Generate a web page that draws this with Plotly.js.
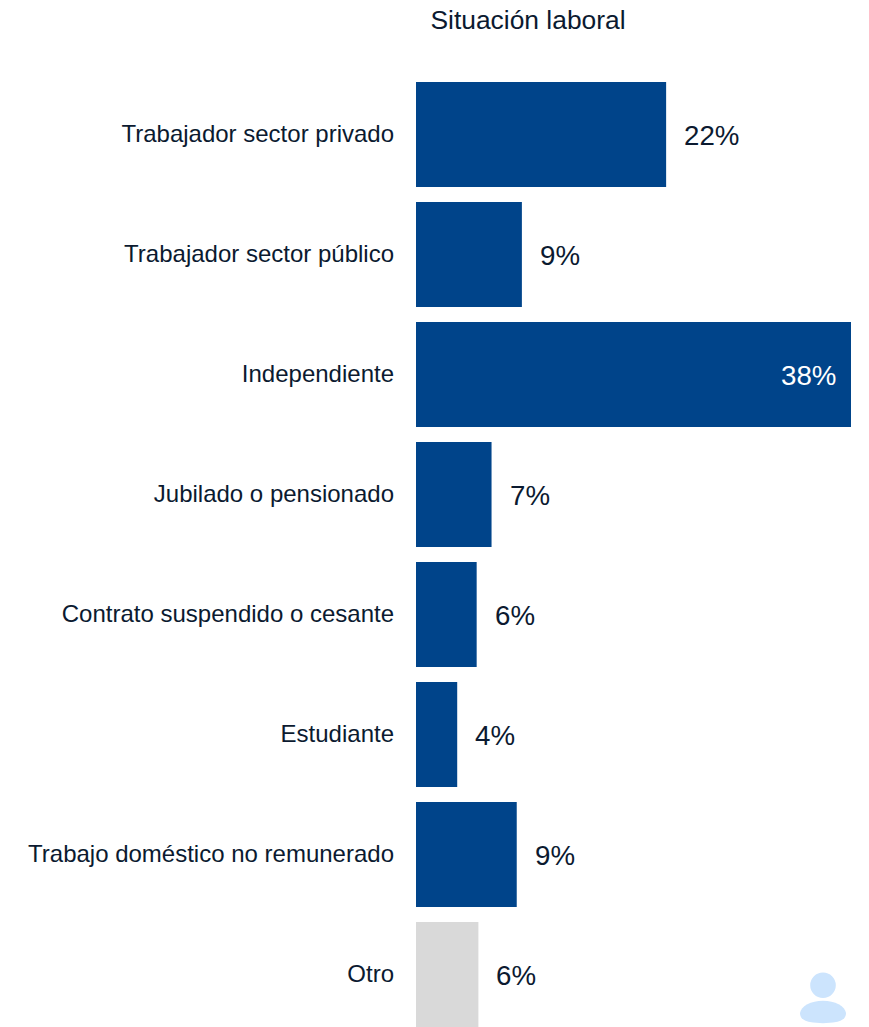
<!DOCTYPE html>
<html><head><meta charset="utf-8">
<script src="https://cdn.plot.ly/plotly-3.0.1.min.js"></script>
<style>html,body{margin:0;padding:0;background:#fff}#c{width:869px;height:1027px}</style>
</head><body><div id="c"></div>
<script>
const categories = ["Trabajador sector privado","Trabajador sector público","Independiente","Jubilado o pensionado","Contrato suspendido o cesante","Estudiante","Trabajo doméstico no remunerado","Otro"];
const values = [21.85,9.25,38,6.6,5.3,3.6,8.8,5.45];
const labels = ["22%","9%","38%","7%","6%","4%","9%","6%"];
const blue = "#00448a", grey = "#d9d9d9", ink = "#0b1a30", iconFill = "#cce4fd";
const font = "Liberation Sans, Arial, sans-serif";
const colors = categories.map(c => c === "Otro" ? grey : blue);

const M = {l:416, r:18, t:75, b:0}, W = 869, H = 1027;
const fx = p => (p - M.l) / (W - M.l - M.r);
const fy = p => 1 - (p - M.t) / (H - M.t - M.b);
const pt = (x, y) => fx(x) + "," + fy(y);

const trace = {type:"bar", orientation:"h", y:categories, x:values,
  marker:{color:colors, line:{width:0}}, width:0.875, hoverinfo:"skip"};

const annotations = categories.map((c, i) => {
  const inside = values[i] > 30;
  return {x:values[i], y:c, xref:"x", yref:"y", text:labels[i], showarrow:false,
    xanchor: inside ? "right" : "left", xshift: inside ? -13 : 16, yshift:-1,
    font:{family:font, size:27.7, color: inside ? "#ffffff" : ink}};
});

const layout = {width:W, height:H, margin:M, paper_bgcolor:"#fff", plot_bgcolor:"#fff", showlegend:false,
  bargap:0.125,
  title:{text:"Situación laboral", font:{family:font, size:26.4, color:ink}, x:0.6076, xanchor:"center", y:0.981, yanchor:"middle"},
  xaxis:{range:[0,38], visible:false, fixedrange:true},
  yaxis:{range:[7.4375,-0.4958], showline:false, showgrid:false, zeroline:false, ticks:"", ticklen:0,
    tickfont:{family:font, size:24, color:ink}, automargin:false, ticklabelstandoff:21, ticklabelshift:1, fixedrange:true},
  annotations,
  shapes:[
    {type:"circle", xref:"paper", yref:"paper", x0:fx(810.2), x1:fx(835.8), y0:fy(998), y1:fy(972.6), fillcolor:iconFill, line:{width:0}},
    {type:"path", xref:"paper", yref:"paper", fillcolor:iconFill, line:{width:0},
     path:"M"+pt(800,1013)+" C"+pt(801,1006)+" "+pt(811,1000.7)+" "+pt(823,1000.7)+
          " C"+pt(835,1000.7)+" "+pt(845,1006)+" "+pt(846,1013)+
          " C"+pt(846,1019)+" "+pt(841,1021)+" "+pt(836,1022)+
          " C"+pt(828,1023.5)+" "+pt(818,1023.5)+" "+pt(810,1022)+
          " C"+pt(805,1021)+" "+pt(800,1019)+" "+pt(800,1013)+" Z"}
  ]};
Plotly.newPlot("c",[trace],layout,{displayModeBar:false,staticPlot:true});
</script></body></html>
